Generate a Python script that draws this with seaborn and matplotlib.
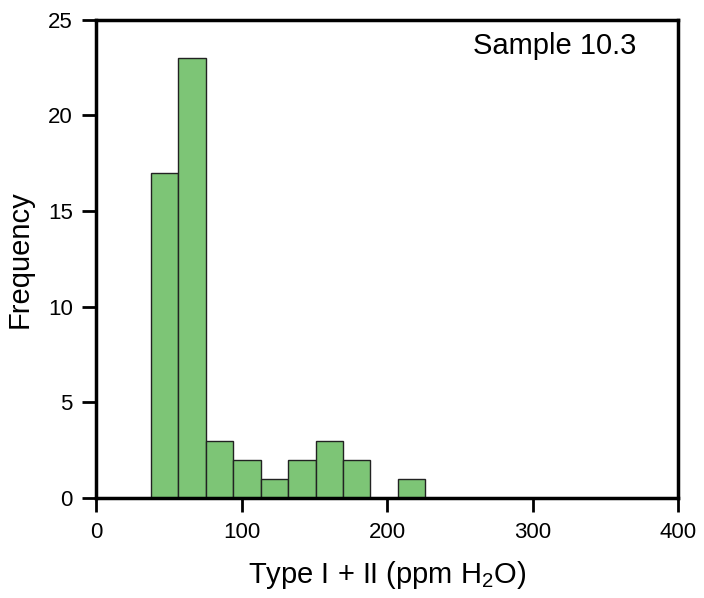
import matplotlib
matplotlib.use("Agg")
import matplotlib.pyplot as plt
import seaborn as sns
import numpy as np

# bin edges (ppm H2O) and counts
bin_edges = [37.3, 56.2, 75.1, 94.0, 112.9, 131.8, 150.7, 169.6, 188.5, 207.4, 226.3]
counts = [17, 23, 3, 2, 1, 2, 3, 2, 0, 1]
x_ticks = [0, 100, 200, 300, 400]
y_ticks = [0, 5, 10, 15, 20, 25]

sns.set_style("white")
plt.rcParams['font.family'] = ['Liberation Sans', 'DejaVu Sans']
plt.rcParams['mathtext.fontset'] = 'custom'
plt.rcParams['mathtext.rm'] = 'Liberation Sans'

centers = [(a + b) / 2 for a, b in zip(bin_edges[:-1], bin_edges[1:])]

fig = plt.figure(figsize=(7.04, 5.98), dpi=100)
ax = fig.add_axes([0.137, 0.167, 0.826, 0.8])

sns.histplot(x=centers, weights=counts, bins=bin_edges, color='#7dc576',
             edgecolor='#222222', linewidth=1.0, alpha=1.0, ax=ax)

ax.set_xlim(0, 400)
ax.set_ylim(0, 25)
ax.set_xticks(x_ticks)
ax.set_yticks(y_ticks)
ax.tick_params(axis='both', direction='out', length=10, width=2, labelsize=16,
               colors='black', bottom=True, left=True, top=False, right=False, pad=7)
for s in ax.spines.values():
    s.set_linewidth(2.5)
    s.set_color('black')

ax.set_xlabel('Type I + II (ppm H$_\\mathrm{2}$O)', fontsize=21, labelpad=12, color='black')
ax.set_ylabel('Frequency', fontsize=21, labelpad=10, color='black')
ax.text(0.928, 0.945, 'Sample 10.3', transform=ax.transAxes, ha='right', va='center',
        fontsize=21, color='black')

fig.savefig('out.png', dpi=100)
